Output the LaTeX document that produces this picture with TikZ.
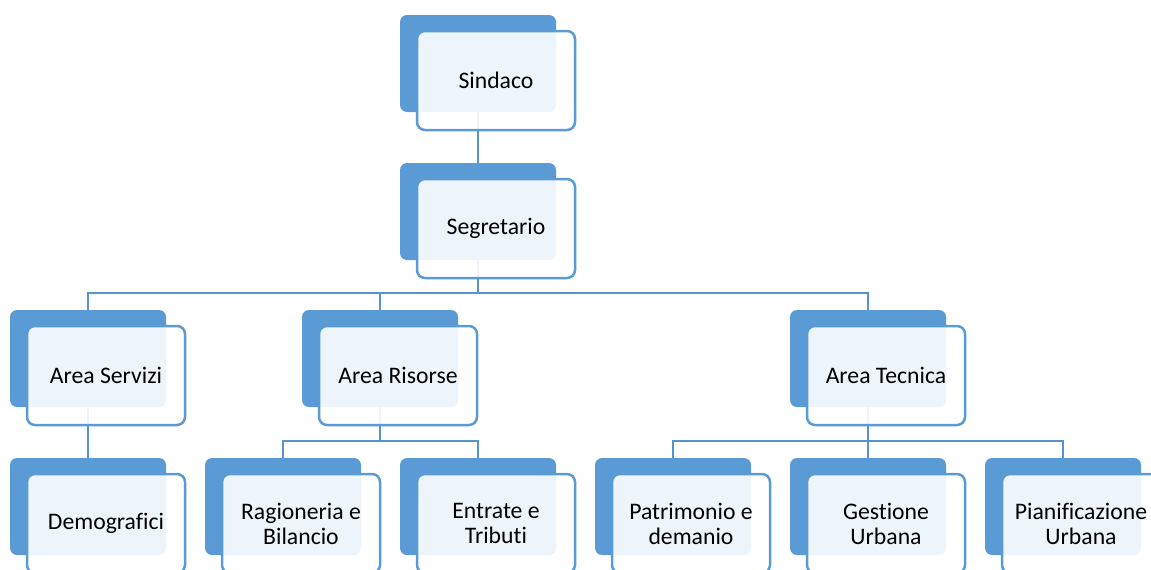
\documentclass[tikz,border=0pt]{standalone}
\usepackage{fontspec}
\setmainfont{Carlito}[Ligatures={NoCommon}]
\usepackage{tikz}
\definecolor{sabox}{HTML}{5B9BD5}

\begin{document}
\begin{tikzpicture}[x=1pt,y=-1pt]
	\useasboundingbox (0,0) rectangle (1151,570);
	\begin{scope}[every node/.style={fill=sabox,rounded corners=7pt,inner sep=0pt,
	              minimum width=156pt,minimum height=97pt}]
	    	\node (1) at (478,63.5) {};
	    	\node (2) at (478,211.5) {};
	    	\node (3) at (88,358.5) {};
	    	\node (4) at (380,358.5) {};
	    	\node (5) at (868,358.5) {};
	    	\node (6) at (88,506.5) {};
	    	\node (7) at (283,506.5) {};
	    	\node (8) at (478,506.5) {};
	    	\node (9) at (673,506.5) {};
	    	\node (10) at (868,506.5) {};
	    	\node (11) at (1063,506.5) {};
	\end{scope}

	\coordinate (b1) at (478,293);
	\coordinate (b2) at (380,441);
	\coordinate (b3) at (868,441);
	\begin{scope}[sabox!95!black,line width=2.4pt]
		\draw (1) -- (2);
		\draw (2) -- (b1);
		\draw (3.north) |- (b1) -| (5.north);
		\draw (4.north) -- (4.north |- b1);
		\draw (3) -- (6);
		\draw (4) -- (b2);
		\draw (7.north) |- (b2) -| (8.north);
		\draw (5) -- (10);
		\draw (9.north) |- (b3) -| (11.north);
	\end{scope}

	\begin{scope}[every node/.style={draw=sabox,line width=2.5pt,fill=white,fill opacity=0.9,
	              text opacity=1,rounded corners=8pt,inner sep=0pt,align=center,
	              minimum width=158pt,minimum height=99pt,
	              font=\fontsize{23.7}{25}\selectfont}]
	    	\node (21) at (496,80.5) {Sindaco};
	    	\node (22) at (496,228.5) {Segretario};
	    	\node (23) at (106,375.5) {Area Servizi};
	    	\node (24) at (398,375.5) {Area Risorse};
	    	\node (25) at (886,375.5) {Area Tecnica};
	    	\node (26) at (106,523.5) {Demografici};
	    	\node (27) at (301,523.5) {Ragioneria e\\Bilancio};
	    	\node (28) at (496,523.5) {Entrate e\\Tributi};
	    	\node (29) at (691,523.5) {Patrimonio e\\demanio};
	    	\node (30) at (886,523.5) {Gestione\\Urbana};
	    	\node (31) at (1081,523.5) {Pianificazione\\Urbana};
	\end{scope}
\end{tikzpicture}
\end{document}
